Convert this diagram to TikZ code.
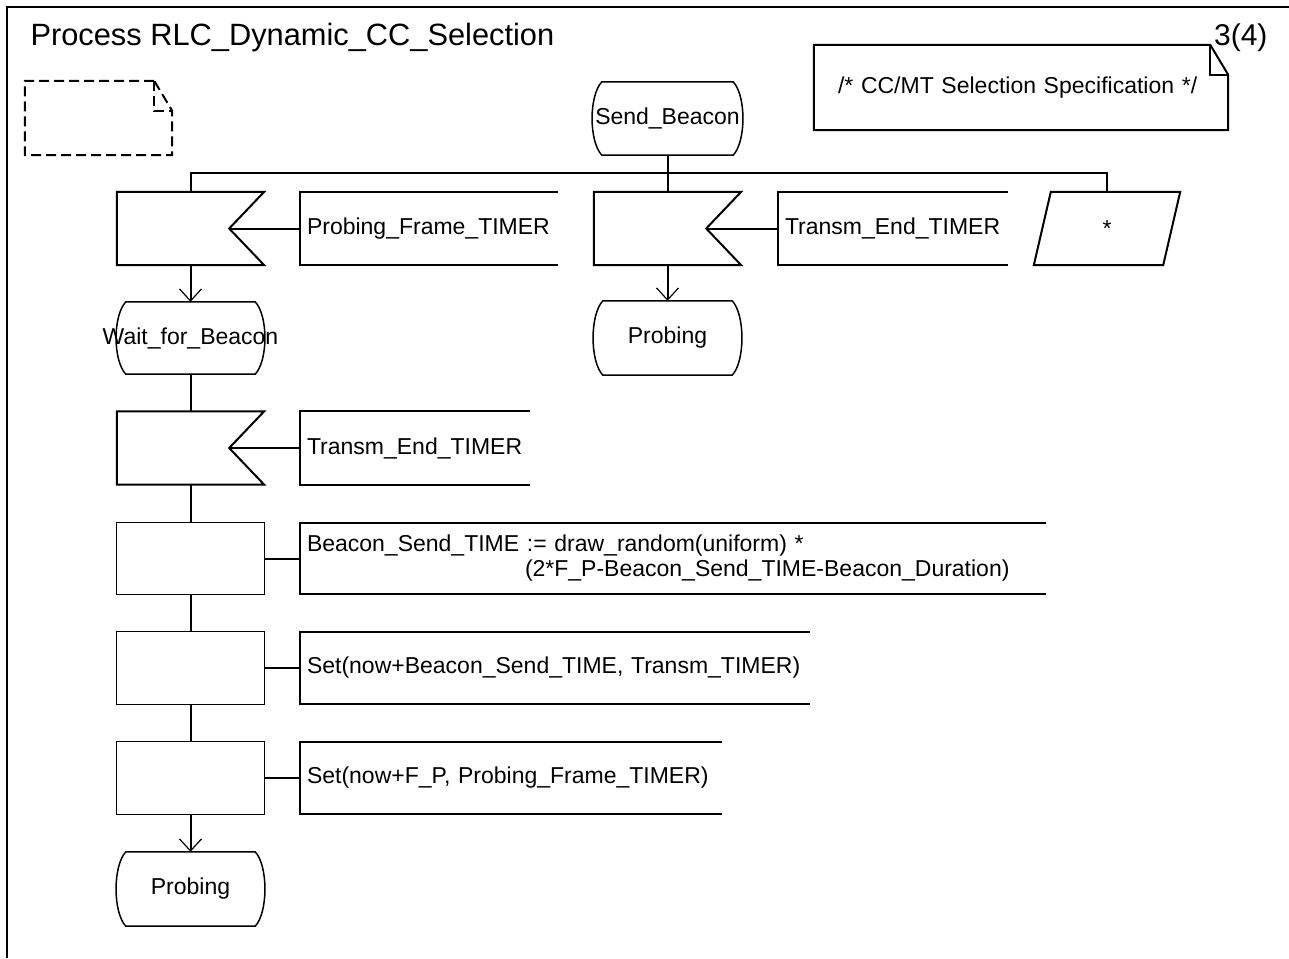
\documentclass[tikz,border=0pt]{standalone}
\usepackage{fontspec}
\setmainfont{Liberation Sans}
\usetikzlibrary{arrows.meta, positioning}

\tikzset{
  sym/.style={line width=2pt},
  thin sym/.style={line width=1.3pt},
  state sym/.style={line width=1.5pt},
  notedash/.style={dash pattern=on 10pt off 5pt},
  notesolid/.style={},
  sdlbox/.style={inner sep=0pt, minimum width=147, minimum height=73},
  sdlcomment/.style={inner xsep=7pt, inner ysep=0pt, minimum height=73, text width=#1, align=left},
  flow/.style={sym, -{Straight Barb[length=12pt, width=22pt, line width=1.2pt]}}
}

\begin{document}
\begin{tikzpicture}[x=1pt, y=-1pt, font=\fontsize{23}{25}\selectfont]
  \useasboundingbox (0,0) rectangle (1289,958);
  % page frame
  \draw[sym] (1289,7) -- (7,7) -- (7,958);
  \node[anchor=west, font=\fontsize{30.8}{35}\selectfont] (title) at (27,38) {Process RLC\_Dynamic\_CC\_Selection};
  \node[anchor=east, font=\fontsize{30}{35}\selectfont] (pagenum) at (1271,38) {3(4)};

  % text symbols
  \node[sdlbox, minimum width=147, minimum height=74] (blank) at (98.5,118) {};
  \node[sdlbox, minimum width=414, minimum height=85, text width=366, inner xsep=24pt, align=left] (spec) at (1021,87.5) {/* CC/MT Selection Specification */};
  \foreach \n/\s in {blank/notedash, spec/notesolid} {
    \draw[sym, \s] ([xshift=-18]\n.north east) -- (\n.north west) -- (\n.south west) -- (\n.south east) -- ([yshift=-30]\n.north east) -- cycle;
    \draw[sym, \s] ([xshift=-18]\n.north east) |- ([yshift=-30]\n.north east);
  }

  % start state and its inputs
  \node[sdlbox, minimum width=149] (sendB) at (667.5,118.5) {Send\_Beacon};
  \coordinate (bus) at (667.5,173);
  \node[sdlbox] (inA) at (190.5,228.5) {};
  \node[sdlcomment=244] (pA) at (429,228.5) {Probing\_Frame\_TIMER};
  \node[sdlbox] (inB) at (667.5,228.5) {};
  \node[sdlcomment=216] (pB) at (893,228.5) {Transm\_End\_TIMER};
  \node[sdlbox, minimum width=146] (anysig) at (1107,228.5) {*};
  \node[sdlbox, minimum height=74] (probeB) at (667.5,338) {Probing};
  \node[sdlbox, minimum height=72] (waitB) at (190.5,338) {\makebox[0pt]{Wait\_for\_Beacon}};

  % left column
  \node[sdlbox] (inC) at (190.5,448) {};
  \node[sdlcomment=216] (pC) at (415,448) {Transm\_End\_TIMER};
  \node[sdlbox, minimum height=71] (taskA) at (190.5,558.5) {};
  \node[sdlcomment=732, minimum height=71] (tA) at (673,558.5) {Beacon\_Send\_TIME := draw\_random(uniform) *\\
    \hspace*{218pt}(2*F\_P-Beacon\_Send\_TIME-Beacon\_Duration)};
  \node[sdlbox, minimum height=72] (taskB) at (190.5,668) {};
  \node[sdlcomment=496, minimum height=72] (tB) at (555,668) {Set(now+Beacon\_Send\_TIME, Transm\_TIMER)};
  \node[sdlbox, minimum height=72] (taskC) at (190.5,778) {};
  \node[sdlcomment=408, minimum height=72] (tC) at (511,778) {Set(now+F\_P, Probing\_Frame\_TIMER)};
  \node[sdlbox, minimum height=74] (probeA) at (190.5,889) {Probing};

  % symbol outlines
  \foreach \n in {sendB, waitB, probeB, probeA} {
    \draw[state sym] ([xshift=9]\n.north west) -- ([xshift=-9]\n.north east)
      .. controls ([xshift=4, yshift=-14]\n.north east) and ([xshift=4, yshift=14]\n.south east) .. ([xshift=-9]\n.south east)
      -- ([xshift=9]\n.south west)
      .. controls ([xshift=-4, yshift=14]\n.south west) and ([xshift=-4, yshift=-14]\n.north west) .. ([xshift=9]\n.north west) -- cycle;
  }
  \foreach \n in {inA, inB, inC} {
    \draw[sym] (\n.north west) -- (\n.north east) -- ([xshift=-35]\n.east) -- (\n.south east) -- (\n.south west) -- cycle;
  }
  \draw[sym] ([xshift=17]anysig.north west) -- (anysig.north east) -- ([xshift=-17]anysig.south east) -- (anysig.south west) -- cycle;
  \foreach \n in {taskA, taskB, taskC}
    \draw[thin sym] (\n.north west) rectangle (\n.south east);
  \foreach \n in {pA, pB, pC, tA, tB, tC}
    \draw[sym] (\n.north east) -- (\n.north west) -- (\n.south west) -- (\n.south east);

  % connectors
  \draw[sym] (sendB.south) -- (bus);
  \draw[sym] (inA.north) |- (bus) -| (anysig.north);
  \draw[sym] (bus) -- (inB.north);
  \draw[sym] ([xshift=-35]inA.east) -- (pA.west);
  \draw[sym] ([xshift=-35]inB.east) -- (pB.west);
  \draw[sym] ([xshift=-35]inC.east) -- (pC.west);
  \draw[flow] (inA.south) -- (waitB.north);
  \draw[flow] (inB.south) -- (probeB.north);
  \draw[sym] (waitB.south) -- (inC.north);
  \draw[sym] (inC.south) -- (taskA.north);
  \draw[sym] (taskA.south) -- (taskB.north);
  \draw[sym] (taskB.south) -- (taskC.north);
  \draw[flow] (taskC.south) -- (probeA.north);
  \draw[sym] (taskA.east) -- (tA.west);
  \draw[sym] (taskB.east) -- (tB.west);
  \draw[sym] (taskC.east) -- (tC.west);
\end{tikzpicture}
\end{document}
